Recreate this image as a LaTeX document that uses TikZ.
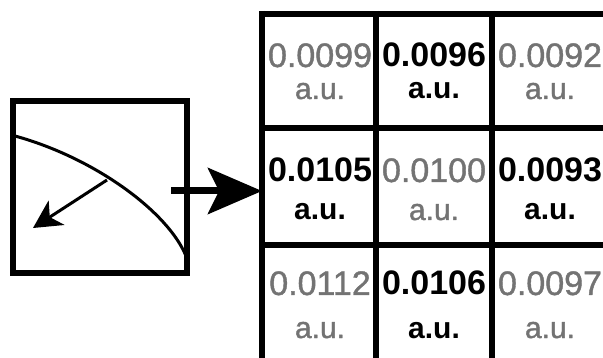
\documentclass[tikz,border=0pt]{standalone}
\usepackage{fontspec}
\setmainfont{Liberation Sans}
\newfontfamily\grayfont[FakeBold=1.2]{Liberation Sans}
\usetikzlibrary{arrows.meta}
\definecolor{txtgray}{gray}{0.45}
\tikzset{
  frame/.style={line width=5.5pt, line join=miter},
  gridline/.style={line width=5.5pt},
  numg/.style={anchor=base, inner sep=0pt, text=txtgray, font=\fontsize{34pt}{34pt}\grayfont},
  numb/.style={anchor=base, inner sep=0pt, text=black, font=\fontsize{34pt}{34pt}\selectfont\bfseries},
  aug/.style={anchor=base, inner sep=0pt, text=txtgray, font=\fontsize{30pt}{30pt}\grayfont},
  aub/.style={anchor=base, inner sep=0pt, text=black, font=\fontsize{30pt}{30pt}\selectfont\bfseries},
}
\begin{document}
\begin{tikzpicture}[x=1pt, y=-1pt]
\useasboundingbox (0,0) rectangle (603,358);
\begin{scope}
\clip (0,0) rectangle (603,358);
% left box
\draw[frame] (13,101) rectangle (187,273);
% curve
\coordinate (cs) at (15,136);
\coordinate (ce) at (186,256);
\draw[line width=3pt] (cs) .. controls (95,158) and (168,212) .. (ce);
% small arrow
\coordinate (sa) at (107,180);
\coordinate (sb) at (33,228);
\draw[line width=3pt, -{Stealth[length=28pt, width=29pt, inset=8pt]}] (sa) -- (sb);
% grid
\foreach \x in {262,376,492,607} \draw[gridline] (\x,11) -- (\x,370);
\foreach \y in {14,128,245,361} \draw[gridline] (259,\y) -- (620,\y);
% big arrow
\coordinate (ba) at (171,191);
\coordinate (bb) at (262,191);
\draw[line width=7pt, -{Stealth[length=54pt, width=46pt, inset=11pt]}] (ba) -- (bb);
% row 1
\node[numg] (n11) at (320,67) {0.0099};
\node[aug]  (u11) at (320,99) {a.u.};
\node[numb] (n12) at (434,67) {0.0096};
\node[aub]  (u12) at (434,99) {a.u.};
\node[numg] (n13) at (550,67) {0.0092};
\node[aug]  (u13) at (550,99) {a.u.};
% row 2
\node[numb] (n21) at (320,182) {0.0105};
\node[aub]  (u21) at (320,220) {a.u.};
\node[numg] (n22) at (434,182) {0.0100};
\node[aug]  (u22) at (434,220) {a.u.};
\node[numb] (n23) at (550,182) {0.0093};
\node[aub]  (u23) at (550,220) {a.u.};
% row 3
\node[numg] (n31) at (320,295) {0.0112};
\node[aug]  (u31) at (320,338) {a.u.};
\node[numb] (n32) at (434,295) {0.0106};
\node[aub]  (u32) at (434,338) {a.u.};
\node[numg] (n33) at (550,295) {0.0097};
\node[aug]  (u33) at (550,338) {a.u.};
\end{scope}
\end{tikzpicture}
\end{document}
